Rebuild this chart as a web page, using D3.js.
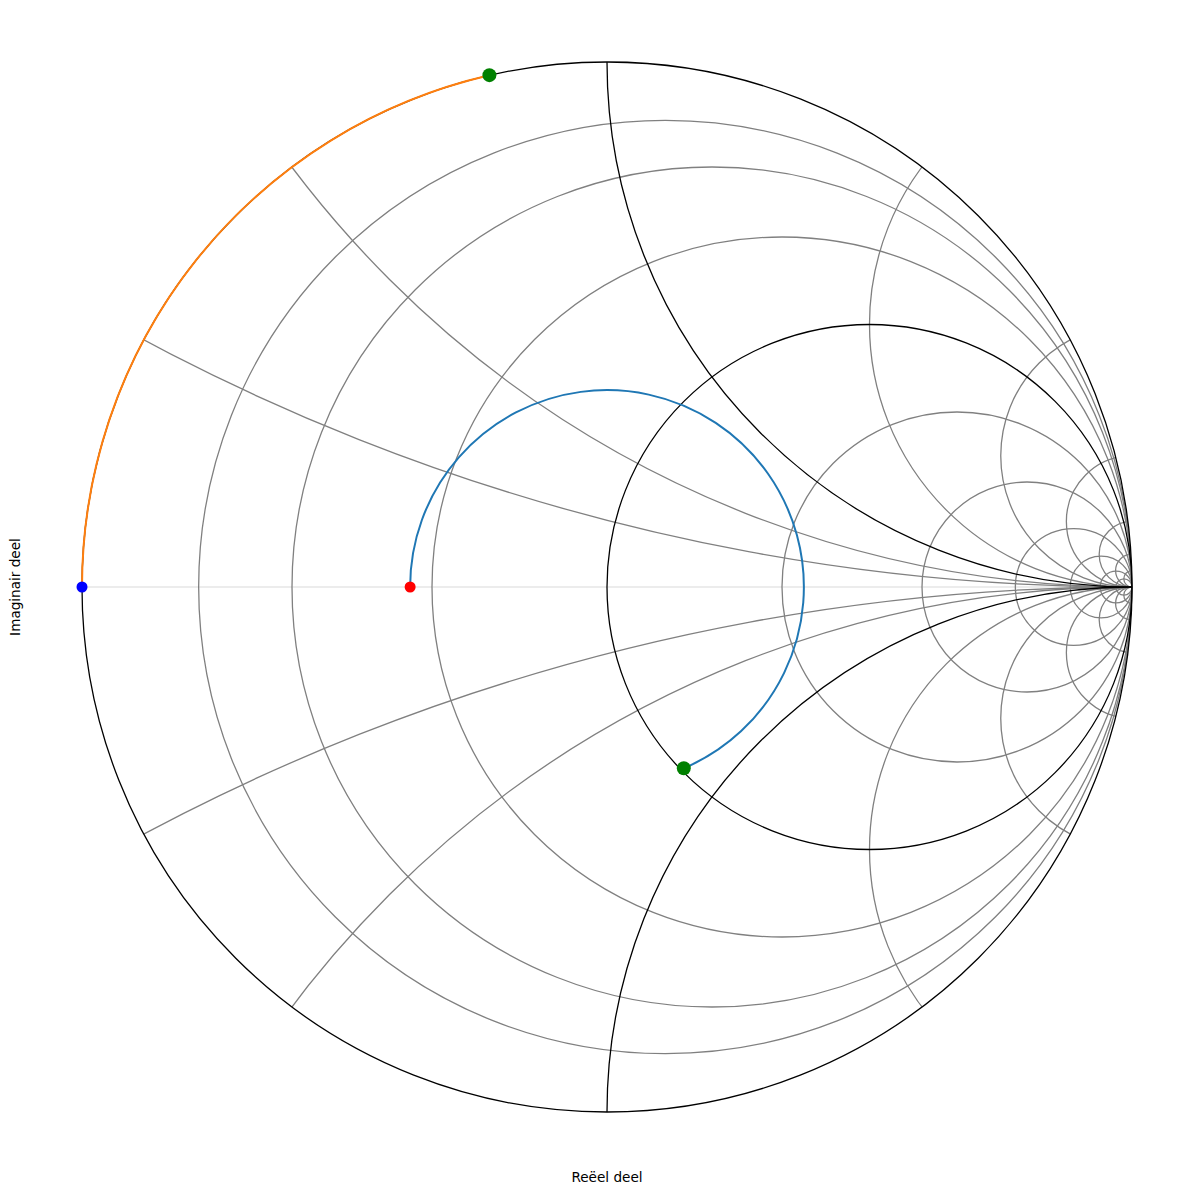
<!DOCTYPE html>
<html>
<head>
<meta charset="utf-8">
<script src="https://cdn.jsdelivr.net/npm/d3@7"></script>
<style>
  body { margin: 0; background: #fff; }
  text { font-family: "DejaVu Sans", sans-serif; font-size: 13.6px; fill: #000; }
</style>
</head>
<body>
<div id="chart"></div>
<script>
// Grid values (normalised impedance)
const grayResistances = [0.125, 0.25, 0.5, 2, 4, 8, 16, 32, 64];
const grayReactances = [0.25, 0.5, 2, 4, 8, 16, 32, 64];
const blackResistances = [0, 1];
const blackReactances = [1];

// Points, as reflection coefficient [re, im]
const loadGamma = [-0.375, 0];
const matchGamma = [0.147, -0.347];
const shortGamma = [-1, 0];
const stubGamma = [-0.224, 0.975];

const xLabel = "Reëel deel";
const yLabel = "Imaginair deel";

const width = 1194;
const height = 1194;

const x = d3.scaleLinear().domain([-1, 1]).range([82, 1132]);
const y = d3.scaleLinear().domain([-1, 1]).range([1112, 62]);
const rs = (v) => x(v) - x(0);

// screen angle (clockwise, y down) of a gamma point, in [0, 2pi)
const screenAngle = (g) => {
  const a = Math.atan2(-g[1], g[0]);
  return a < 0 ? a + 2 * Math.PI : a;
};

const svg = d3
  .select("#chart")
  .append("svg")
  .attr("width", width)
  .attr("height", height);

svg
  .append("defs")
  .append("clipPath")
  .attr("id", "unit")
  .append("circle")
  .attr("cx", x(0))
  .attr("cy", y(0))
  .attr("r", rs(1));

const grid = svg.append("g").attr("clip-path", "url(#unit)").attr("fill", "none");

// real axis
grid
  .append("line")
  .attr("x1", x(-1))
  .attr("x2", x(1))
  .attr("y1", y(0))
  .attr("y2", y(0))
  .attr("stroke", "#e6e6e6")
  .attr("stroke-width", 1.3);

function resistanceCircle(sel, values, colour) {
  sel
    .selectAll(null)
    .data(values)
    .join("circle")
    .attr("cx", (r) => x(r / (1 + r)))
    .attr("cy", y(0))
    .attr("r", (r) => rs(1 / (1 + r)))
    .attr("stroke", colour)
    .attr("stroke-width", 1.3);
}

function reactanceCircle(sel, values, colour) {
  const both = values.flatMap((v) => [v, -v]);
  sel
    .selectAll(null)
    .data(both)
    .join("circle")
    .attr("cx", x(1))
    .attr("cy", (v) => y(1 / v))
    .attr("r", (v) => rs(1 / Math.abs(v)))
    .attr("stroke", colour)
    .attr("stroke-width", 1.3);
}

const gray = grid.append("g");
resistanceCircle(gray, grayResistances, "#808080");
reactanceCircle(gray, grayReactances, "#808080");

const black = grid.append("g");
reactanceCircle(black, blackReactances, "#000");

svg
  .append("g")
  .attr("fill", "none")
  .call((g) => resistanceCircle(g, blackResistances, "#000"));

// stub along the outer circle (clockwise from the short)
const stubStart = screenAngle(shortGamma);
let stubEnd = screenAngle(stubGamma);
if (stubEnd < stubStart) stubEnd += 2 * Math.PI;
const stubPath = d3.path();
stubPath.arc(x(0), y(0), rs(1), stubStart, stubEnd, false);
svg
  .append("path")
  .attr("d", stubPath.toString())
  .attr("fill", "none")
  .attr("stroke", "#ff7f0e")
  .attr("stroke-width", 2);

// rotation along the line (constant |gamma|, clockwise)
const rho = Math.hypot(loadGamma[0], loadGamma[1]);
const lineStart = screenAngle(loadGamma);
let lineEnd = screenAngle(matchGamma);
if (lineEnd < lineStart) lineEnd += 2 * Math.PI;
const linePath = d3.path();
linePath.arc(x(0), y(0), rs(rho), lineStart, lineEnd, false);
svg
  .append("path")
  .attr("d", linePath.toString())
  .attr("fill", "none")
  .attr("stroke", "#1f77b4")
  .attr("stroke-width", 2);

// points
const points = [
  { g: shortGamma, colour: "#0000ff", r: 5.5 },
  { g: loadGamma, colour: "#ff0000", r: 5.5 },
  { g: stubGamma, colour: "#008000", r: 7 },
  { g: [rho * Math.cos(lineEnd), -rho * Math.sin(lineEnd)], colour: "#008000", r: 7 },
];
svg
  .selectAll(".pt")
  .data(points)
  .join("circle")
  .attr("class", "pt")
  .attr("cx", (d) => x(d.g[0]))
  .attr("cy", (d) => y(d.g[1]))
  .attr("r", (d) => d.r)
  .attr("fill", (d) => d.colour);

// axis labels
svg
  .append("text")
  .attr("x", x(0))
  .attr("y", 1182)
  .attr("text-anchor", "middle")
  .text(xLabel);

svg
  .append("text")
  .attr("transform", `translate(20, ${y(0)}) rotate(-90)`)
  .attr("text-anchor", "middle")
  .text(yLabel);
</script>
</body>
</html>
